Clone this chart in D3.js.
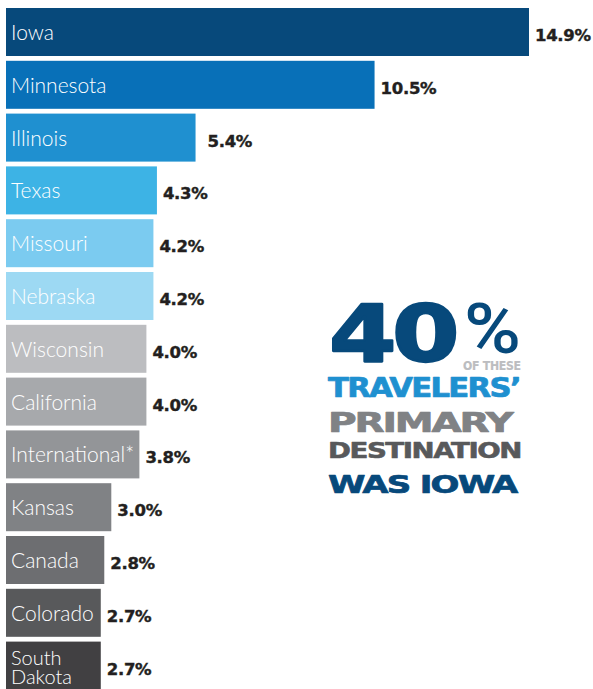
<!DOCTYPE html>
<html>
<head>
<meta charset="utf-8">
<script src="https://cdn.jsdelivr.net/npm/d3@7"></script>
<style>
  html, body { margin: 0; padding: 0; background: #fff; }
  svg { display: block; }
</style>
</head>
<body>
<div id="chart"></div>
<script>
// 旅行者主要目的地 — 横向条形图 + 右侧大字标注
const categories = ["Iowa", "Minnesota", "Illinois", "Texas", "Missouri", "Nebraska", "Wisconsin",
  "California", "International*", "Kansas", "Canada", "Colorado", "South Dakota"];
const values = [14.9, 10.5, 5.4, 4.3, 4.2, 4.2, 4.0, 4.0, 3.8, 3.0, 2.8, 2.7, 2.7];
const barColors = ["#07497b", "#0870b8", "#1f90d0", "#3db3e5", "#7bcbf0", "#9dd9f3", "#bcbdc0",
  "#a7a9ac", "#939598", "#808285", "#6d6e71", "#58595b", "#414042"];
const calloutLines = ["40", "%", "OF THESE", "TRAVELERS\u2019", "PRIMARY", "DESTINATION", "WAS IOWA"];

const W = 593, H = 689;
const svg = d3.select("#chart").append("svg").attr("width", W).attr("height", H);

const x = d3.scaleLinear().domain([0, 14.9]).range([6, 529]);
const y = d3.scaleBand().domain(categories).range([8, 8 + 13 * 52.8 - 4.8]).paddingInner(4.8 / 52.8).paddingOuter(0);
const fmt = (v) => d3.format(".1f")(v) + "%";

const row = svg.append("g").selectAll("g").data(categories).join("g")
  .attr("transform", (d) => `translate(0,${y(d)})`);

row.append("rect")
  .attr("x", x(0)).attr("y", 0)
  .attr("width", (d, i) => x(values[i]) - x(0))
  .attr("height", y.bandwidth())
  .attr("fill", (d, i) => barColors[i]);

// 类别名 (白字, 条内左侧); South Dakota 折两行
row.append("text")
  .attr("x", x(0) + 5)
  .attr("fill", "#fff")
  .attr("font-family", "Lato, 'Open Sans', sans-serif")
  .attr("font-weight", 300)
  .attr("font-size", 21)
  .each(function (d) {
    const t = d3.select(this);
    const words = d === "South Dakota" ? d.split(" ") : [d];
    if (words.length === 1) {
      t.append("tspan").attr("x", x(0) + 5).attr("y", 32).text(d);
    } else {
      t.attr("font-size", 20);
      words.forEach((w, k) => t.append("tspan").attr("x", x(0) + 5).attr("y", 23 + k * 19).text(w));
    }
  });

// 数值标签
row.append("text")
  .attr("x", (d, i) => x(values[i]) + (d === "Illinois" ? 12 : 6))
  .attr("y", 33)
  .attr("fill", "#231f20")
  .attr("stroke", "#231f20").attr("stroke-width", 0.4)
  .attr("font-family", "'DejaVu Sans', sans-serif")
  .attr("font-weight", 700)
  .attr("font-size", 16.5)
  .attr("letter-spacing", -0.3)
  .text((d, i) => fmt(values[i]));

// 右侧大字: 先量自然宽度, 再按目标宽度横向缩放 (紧排、粗体)
const spec = [
  { x: 329, y: 361, size: 88, sy: 0.9, sw: 2.5, ls: -4, len: 127, fill: "#07497b" },
  { x: 464, y: 353, size: 70, sy: 1, sw: 0, ls: 0, len: 57, fill: "#07497b", font: "Roboto, sans-serif", weight: 500 },
  { x: 463, y: 370, size: 11.7, sy: 1, sw: 0.2, ls: -0.3, len: 58, fill: "#bcbdc0" },
  { x: 328, y: 397, size: 28, sy: 0.93, sw: 0.8, ls: -1.5, len: 192, fill: "#1f90d0" },
  { x: 328, y: 432, size: 33, sy: 0.83, sw: 0.9, ls: -1.8, len: 187, fill: "#808285" },
  { x: 328, y: 458, size: 25, sy: 0.87, sw: 0.7, ls: -1.3, len: 193, fill: "#58595b" },
  { x: 328, y: 493, size: 29, sy: 0.85, sw: 0.8, ls: -1.5, len: 191, fill: "#07497b" }
];
const callout = svg.append("g").selectAll("text").data(calloutLines).join("text")
  .attr("font-family", (d, i) => spec[i].font || "'DejaVu Sans', sans-serif")
  .attr("font-size", (d, i) => spec[i].size)
  .attr("font-weight", (d, i) => spec[i].weight || 700)
  .attr("letter-spacing", (d, i) => spec[i].ls)
  .attr("fill", (d, i) => spec[i].fill)
  .attr("stroke", (d, i) => spec[i].fill)
  .attr("stroke-width", (d, i) => spec[i].sw)
  .attr("stroke-linejoin", "round")
  .text((d) => d);
callout.each(function (d, i) {
  const bb = this.getBBox();
  const sx = spec[i].len / bb.width;
  d3.select(this).attr("x", -bb.x)
    .attr("transform", `translate(${spec[i].x},${spec[i].y}) scale(${sx},${spec[i].sy})`);
});
</script>
</body>
</html>
